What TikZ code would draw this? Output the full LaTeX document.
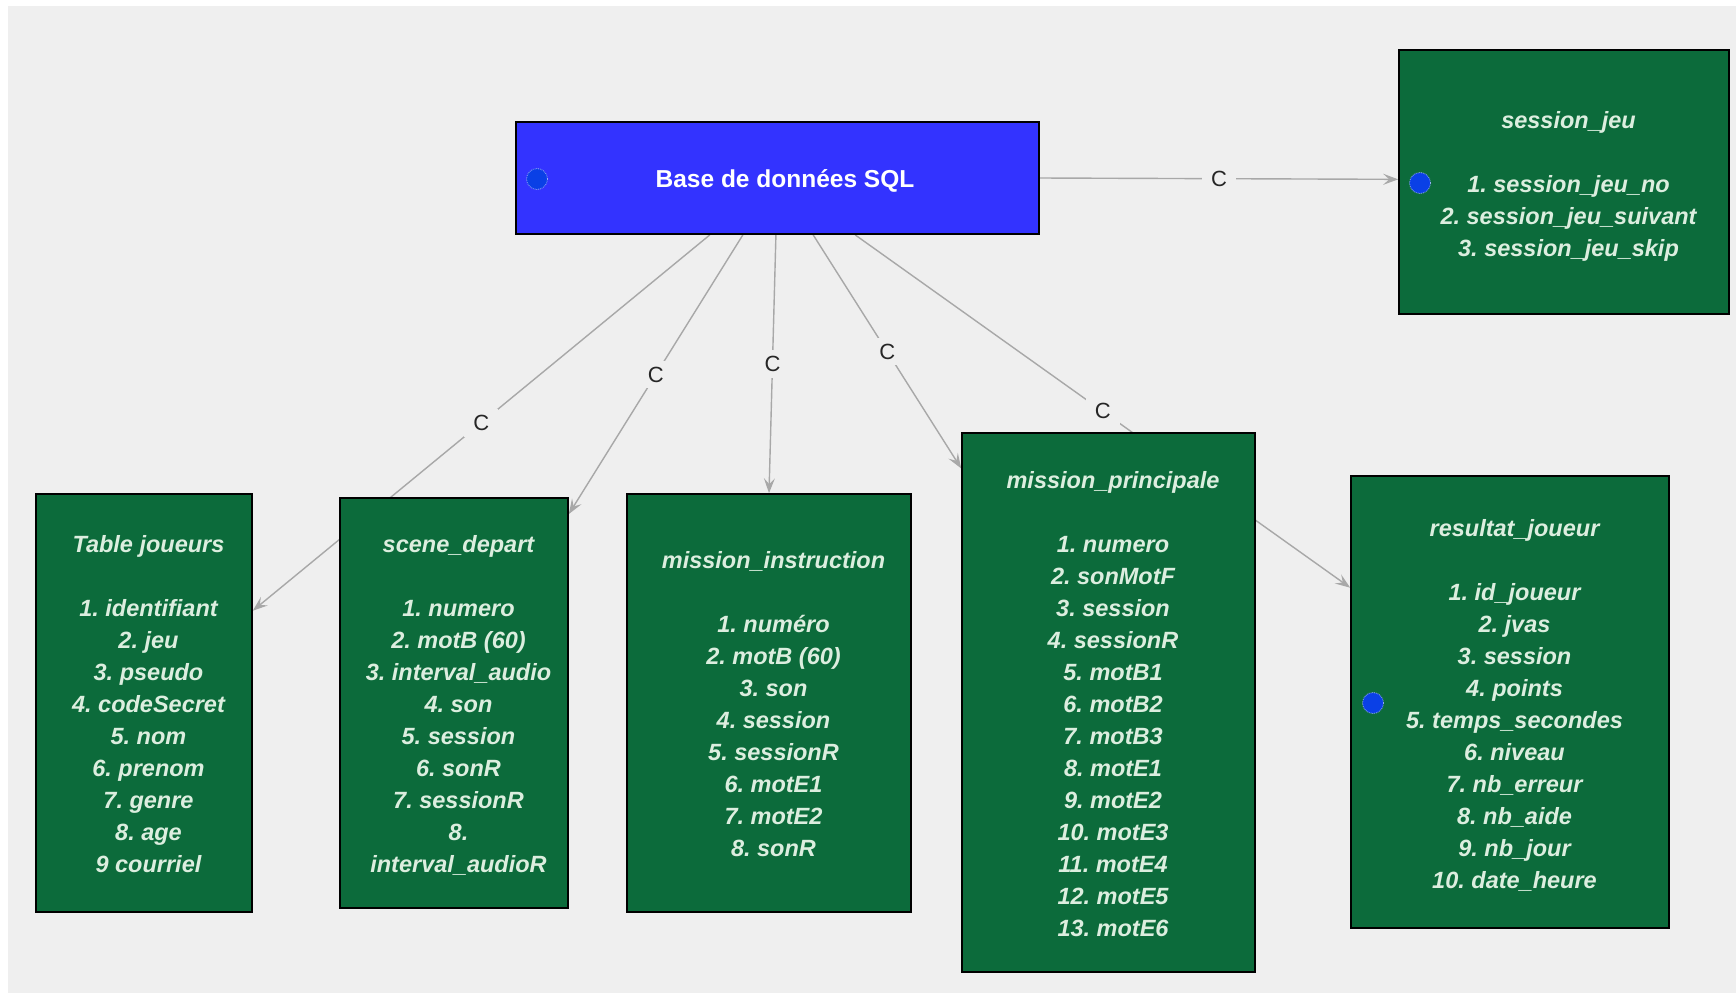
\documentclass[tikz,border=0pt]{standalone}
\usepackage{fontspec}
\setmainfont{Liberation Sans}
\usetikzlibrary{arrows.meta,calc}
\definecolor{canvas}{HTML}{EFEFEF}
\definecolor{tablegreen}{HTML}{0C6B3B}
\definecolor{dbblue}{HTML}{3333FF}
\definecolor{keyblue}{HTML}{0A40E6}
\definecolor{linkgray}{HTML}{A8A8A8}
\definecolor{fieldtext}{HTML}{DCEEDF}
\pgfdeclarelayer{back}
\pgfdeclarelayer{links}
\pgfsetlayers{back,links,main}

\begin{document}
\frenchspacing
\begin{tikzpicture}[x=1pt,y=-1pt,
  tablebox/.style={draw=black, line width=1.6pt, fill=tablegreen, inner sep=0pt},
  fieldlist/.style={text=fieldtext, align=center, inner sep=0pt,
    font=\fontsize{23.5}{32}\selectfont\bfseries\itshape},
  dbbox/.style={draw=black, line width=1.8pt, fill=dbblue, inner sep=0pt},
  dbtitle/.style={text=white, font=\fontsize{24.5}{28}\selectfont\bfseries, inner sep=0pt},
  keydot/.style={circle, fill=keyblue, draw=white!60!keyblue, densely dotted,
    line width=0.8pt, minimum size=21pt, inner sep=0pt},
  link/.style={draw=linkgray, line width=1.4pt,
    -{Stealth[length=15pt,width=11pt,inset=6pt]}},
  clabel/.style={fill=canvas, text=black!85, font=\fontsize{22}{22}\selectfont,
    inner xsep=9pt, inner ysep=6pt}
]
\useasboundingbox (0,0) rectangle (1736,994);
\begin{pgfonlayer}{back}
  \fill[canvas] (8,6) rectangle (1736,993);
\end{pgfonlayer}

% database root
\node[dbbox, minimum width=523pt, minimum height=112pt] (sql) at (777.5,178) {};
\node[dbtitle] (sqltitle) at (785,181) {Base de données SQL};
\node[keydot] (sqlkey) at (537,179) {};

% table boxes
\node[tablebox, minimum width=330pt, minimum height=264pt] (sj) at (1564,182) {};
\node[tablebox, minimum width=216pt, minimum height=418pt] (tj) at (144,703) {};
\node[tablebox, minimum width=228pt, minimum height=410pt] (sd) at (454,703) {};
\node[tablebox, minimum width=284pt, minimum height=418pt] (mi) at (769,703) {};
\node[tablebox, minimum width=293pt, minimum height=539pt] (mp) at (1108.5,702.5) {};
\node[tablebox, minimum width=318pt, minimum height=452pt] (rj) at (1510,702) {};

% field lists
\node[fieldlist] (sjfields) at ($(sj.center)+(4.5,4.5)$)
  {session\_jeu\\[32pt]
   1. session\_jeu\_no\\
   2. session\_jeu\_suivant\\
   3. session\_jeu\_skip};
\node[keydot] (sjkey) at (1420,183) {};

\node[fieldlist] (tjfields) at ($(tj.center)+(4.5,1.2)$)
  {Table joueurs\\[32pt]
   1. identifiant\\
   2. jeu\\
   3. pseudo\\
   4. codeSecret\\
   5. nom\\
   6. prenom\\
   7. genre\\
   8. age\\
   9 courriel};

\node[fieldlist] (sdfields) at ($(sd.center)+(4.5,2.3)$)
  {scene\_depart\\[32pt]
   1. numero\\
   2. motB (60)\\
   3. interval\_audio\\
   4. son\\
   5. session\\
   6. sonR\\
   7. sessionR\\
   8.\\
   interval\_audioR};

\node[fieldlist] (mifields) at ($(mi.center)+(4.5,1.2)$)
  {mission\_instruction\\[32pt]
   1. numéro\\
   2. motB (60)\\
   3. son\\
   4. session\\
   5. sessionR\\
   6. motE1\\
   7. motE2\\
   8. sonR};

\node[fieldlist] (mpfields) at ($(mp.center)+(4.5,1.2)$)
  {mission\_principale\\[32pt]
   1. numero\\
   2. sonMotF\\
   3. session\\
   4. sessionR\\
   5. motB1\\
   6. motB2\\
   7. motB3\\
   8. motE1\\
   9. motE2\\
   10. motE3\\
   11. motE4\\
   12. motE5\\
   13. motE6};

\node[fieldlist] (rjfields) at ($(rj.center)+(4.5,3.4)$)
  {resultat\_joueur\\[32pt]
   1. id\_joueur\\
   2. jvas\\
   3. session\\
   4. points\\
   5. temps\_secondes\\
   6. niveau\\
   7. nb\_erreur\\
   8. nb\_aide\\
   9. nb\_jour\\
   10. date\_heure};
\node[keydot] (rjkey) at (1373,703) {};

% relations, drawn beneath the tables
\begin{pgfonlayer}{links}
  \draw[link] (sql.east) -- node[clabel] {C} ($(sj.north west)!0.49!(sj.south west)$);
  \draw[link] ($(sql.south west)!0.371!(sql.south east)$) -- node[clabel] {C}
    ($(tj.north east)!0.28!(tj.south east)$);
  \draw[link] ($(sql.south west)!0.434!(sql.south east)$) -- node[clabel] {C}
    ($(sd.north east)!0.041!(sd.south east)$);
  \draw[link] ($(sql.south west)!0.497!(sql.south east)$) -- node[clabel] {C}
    (mi.north);
  \draw[link] ($(sql.south west)!0.568!(sql.south east)$) -- node[clabel] {C}
    ($(mp.north west)!0.067!(mp.south west)$);
  \draw[link] ($(sql.south west)!0.648!(sql.south east)$) -- node[clabel] {C}
    ($(rj.north west)!0.248!(rj.south west)$);
\end{pgfonlayer}
\end{tikzpicture}
\end{document}
